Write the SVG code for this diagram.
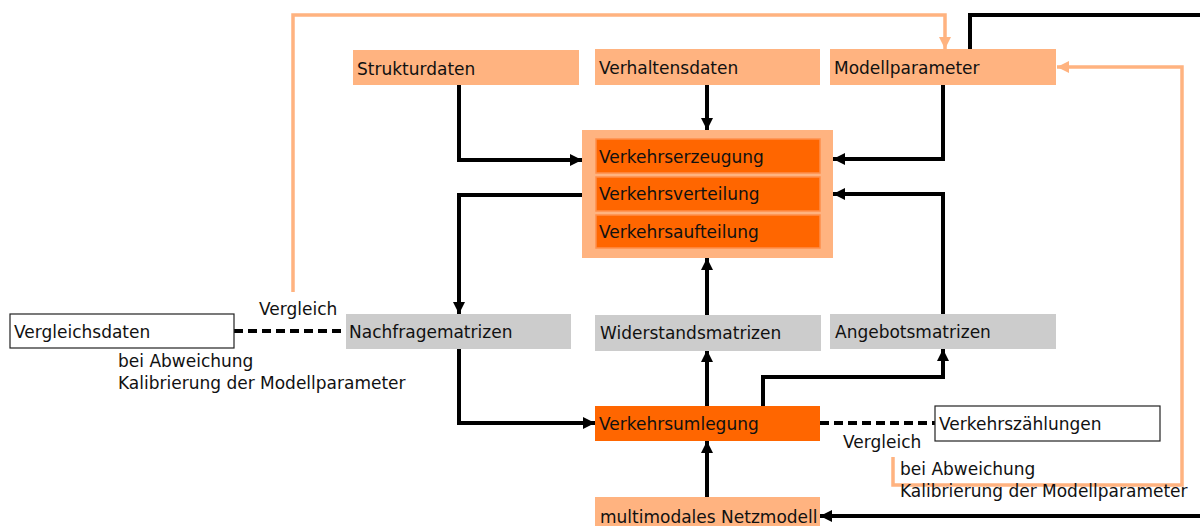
<svg xmlns="http://www.w3.org/2000/svg" width="1200" height="526" viewBox="0 0 1200 526">
<style>
text{font-family:"DejaVu Sans","Verdana",sans-serif;font-size:17px;fill:#111}
.lo{fill:#FFB380}
.do{fill:#FF6600;stroke:#FF8F4A;stroke-width:1.5}
.gr{fill:#CCCCCC}
.wh{fill:#fff;stroke:#222;stroke-width:1.2}
.bk{fill:none;stroke:#000;stroke-width:4;marker-end:url(#ab)}
.or{fill:none;stroke:#FFB380;stroke-width:3.5;marker-end:url(#ao)}
.dash{fill:none;stroke:#000;stroke-width:4;stroke-dasharray:9 5}
</style>
<defs>
<marker id="ab" markerUnits="userSpaceOnUse" markerWidth="14" markerHeight="14" viewBox="0 0 14 14" refX="12" refY="7" orient="auto">
<path d="M0,1 L12,7 L0,13 Z" fill="#000"/>
</marker>
<marker id="ao" markerUnits="userSpaceOnUse" markerWidth="14" markerHeight="14" viewBox="0 0 14 14" refX="12" refY="7" orient="auto">
<path d="M0,1 L12,7 L0,13 Z" fill="#FFB380"/>
</marker>
</defs>
<rect width="1200" height="526" fill="#fff"/>

<g id="connectors">
<path class="or" d="M293,292 V15 H945 V49"/>
<path class="or" d="M893,457 V485 H1182 V67 H1057"/>
<path class="bk" d="M459,85 V160 H582"/>
<path class="bk" d="M707,85 V130"/>
<path class="bk" d="M943,85 V159 H833"/>
<path class="bk" d="M582,195 H459 V314"/>
<path class="bk" d="M943,314 V194 H833"/>
<path class="bk" d="M707,315 V258"/>
<path class="bk" d="M459,349 V423 H595"/>
<path class="bk" d="M707,406 V350"/>
<path class="bk" d="M763,406 V377 H943 V349"/>
<path class="bk" d="M707,497 V441"/>
<path class="bk" d="M970,49 V15 H1212 V516 H820"/>
<path class="dash" d="M234,331 H346"/>
<path class="dash" d="M820,423 H935"/>
</g>

<g id="strukturdaten"><rect class="lo" x="353" y="50" width="226" height="35"/><text x="357" y="75">Strukturdaten</text></g>
<g id="verhaltensdaten"><rect class="lo" x="595" y="49" width="225" height="36"/><text x="599" y="74">Verhaltensdaten</text></g>
<g id="modellparameter"><rect class="lo" x="830" y="49" width="226" height="36"/><text x="834" y="74">Modellparameter</text></g>

<g id="modellkern">
<rect class="lo" x="582" y="130" width="251" height="128"/>
<rect class="do" x="596" y="139" width="224" height="34"/>
<text x="599" y="163">Verkehrserzeugung</text>
<rect class="do" x="596" y="177" width="224" height="34"/>
<text x="599" y="200">Verkehrsverteilung</text>
<rect class="do" x="596" y="215" width="224" height="33"/>
<text x="599" y="238">Verkehrsaufteilung</text>
</g>

<g id="vergleichsdaten"><rect class="wh" x="10" y="314" width="224" height="34"/><text x="14" y="338">Vergleichsdaten</text></g>
<g id="nachfragematrizen"><rect class="gr" x="346" y="314" width="225" height="35"/><text x="349" y="338">Nachfragematrizen</text></g>
<g id="widerstandsmatrizen"><rect class="gr" x="595" y="315" width="226" height="36"/><text x="600" y="339">Widerstandsmatrizen</text></g>
<g id="angebotsmatrizen"><rect class="gr" x="830" y="314" width="226" height="35"/><text x="835" y="338">Angebotsmatrizen</text></g>
<g id="verkehrsumlegung"><rect class="do" x="595" y="406" width="225" height="35" style="stroke:none"/><text x="599" y="430">Verkehrsumlegung</text></g>
<g id="verkehrszaehlungen"><rect class="wh" x="935" y="406" width="225" height="35"/><text x="939" y="430">Verkehrszählungen</text></g>
<g id="netzmodell"><rect class="lo" x="595" y="497" width="225" height="35"/><text x="600" y="523">multimodales Netzmodell</text></g>

<g id="labels">
<text x="259" y="315">Vergleich</text>
<text x="118" y="367">bei Abweichung</text>
<text x="118" y="389">Kalibrierung der Modellparameter</text>
<text x="843" y="448">Vergleich</text>
<text x="900" y="475">bei Abweichung</text>
<text x="900" y="497">Kalibrierung der Modellparameter</text>
</g>
</svg>
